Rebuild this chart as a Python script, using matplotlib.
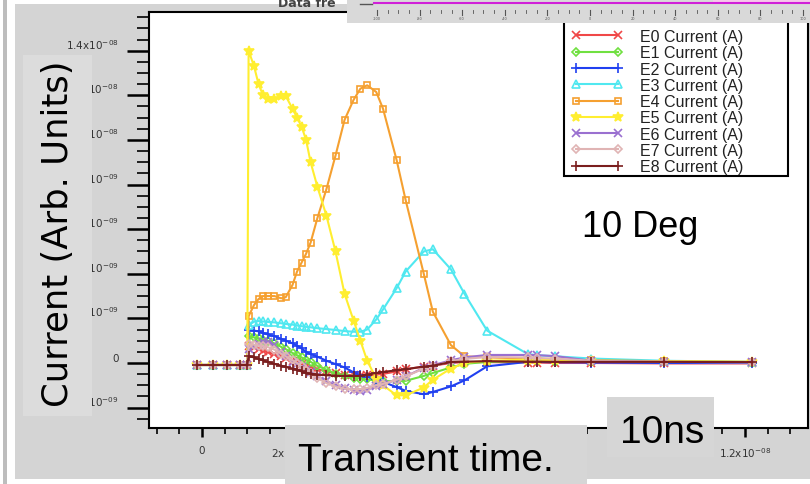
import numpy as np
import matplotlib.pyplot as plt
from matplotlib.patches import Rectangle
from matplotlib.lines import Line2D
from matplotlib.ticker import FixedLocator, FixedFormatter, MultipleLocator

# -------------------------------
# Data (time in ns, current in nA)
# -------------------------------
t_ns = [-0.1, 0.25, 0.55, 0.85, 1.0, 1.03, 1.15, 1.25, 1.35, 1.45, 1.6, 1.75, 1.85,
        2.0, 2.1, 2.2, 2.3, 2.4, 2.55, 2.75, 2.95, 3.15, 3.35, 3.5, 3.65, 3.85, 4.0,
        4.3, 4.5, 4.9, 5.1, 5.5, 5.8, 6.3, 7.2, 7.4, 7.8, 8.6, 10.2, 12.15]

e0 = [-0.09, -0.09, -0.09, -0.09, -0.09, 0.76, 0.7, 0.62, 0.55, 0.48, 0.4, 0.3, 0.22,
      0.1, 0.03, -0.05, -0.13, -0.2, -0.28, -0.38, -0.46, -0.52, -0.56, -0.58, -0.56, -0.52, -0.49,
      -0.38, -0.28, -0.16, -0.12, 0.0, 0.04, 0.04, 0.02, 0.02, 0.0, 0.0, -0.02, -0.02]
e1 = [-0.09, -0.09, -0.09, -0.09, -0.09, 1.21, 1.15, 1.1, 1.05, 1.0, 0.88, 0.72, 0.62,
      0.45, 0.35, 0.25, 0.15, 0.05, -0.13, -0.3, -0.48, -0.58, -0.66, -0.7, -0.74, -0.78, -0.81,
      -0.82, -0.8, -0.58, -0.45, -0.2, -0.04, 0.05, 0.08, 0.08, 0.06, 0.05, 0.03, 0.02]
e2 = [-0.09, -0.09, -0.09, -0.09, -0.09, 1.48, 1.45, 1.42, 1.35, 1.28, 1.2, 1.08, 1.0,
      0.88, 0.78, 0.65, 0.5, 0.4, 0.28, 0.1, -0.05, -0.2, -0.42, -0.55, -0.62, -0.72, -0.85,
      -1.08, -1.25, -1.4, -1.3, -1.05, -0.78, -0.15, 0.05, 0.05, 0.03, 0.02, 0.0, 0.0]
e3 = [-0.09, -0.09, -0.09, -0.09, -0.09, 1.7, 1.85, 1.88, 1.86, 1.84, 1.82, 1.78, 1.75,
      1.72, 1.68, 1.65, 1.62, 1.6, 1.56, 1.52, 1.48, 1.43, 1.4, 1.4, 1.5, 1.95, 2.4,
      3.35, 4.1, 5.0, 5.1, 4.2, 3.1, 1.45, 0.4, 0.35, 0.3, 0.2, 0.1, 0.05]
e4 = [-0.09, -0.09, -0.09, -0.09, -0.09, 2.1, 2.6, 2.87, 3.0, 3.0, 3.0, 2.9, 2.95,
      3.5, 4.1, 4.5, 4.9, 5.4, 6.5, 7.8, 9.3, 10.9, 11.8, 12.3, 12.45, 12.15, 11.4,
      9.1, 7.3, 4.0, 2.3, 0.8, 0.3, 0.25, 0.2, 0.2, 0.15, 0.12, 0.08, 0.05]
e5 = [-0.09, -0.09, -0.09, -0.09, -0.09, 14.0, 13.3, 12.5, 12.0, 11.85, 11.85, 11.97, 11.97,
      11.4, 11.0, 10.6, 10.0, 9.0, 7.9, 6.6, 5.0, 3.1, 1.9, 1.0, 0.1, -0.7, -1.0,
      -1.45, -1.45, -1.1, -0.75, -0.25, 0.0, 0.1, 0.15, 0.15, 0.12, 0.1, 0.08, 0.05]
e6 = [-0.09, -0.09, -0.09, -0.09, -0.09, 0.63, 0.75, 0.85, 0.92, 0.94, 0.8, 0.5, 0.3,
      0.05, -0.05, -0.2, -0.3, -0.42, -0.58, -0.8, -1.0, -1.12, -1.22, -1.26, -1.2, -1.05, -0.95,
      -0.75, -0.6, -0.22, -0.1, 0.12, 0.25, 0.36, 0.36, 0.35, 0.31, 0.1, 0.05, 0.03]
e7 = [-0.09, -0.09, -0.09, -0.09, -0.09, 0.85, 0.82, 0.78, 0.75, 0.72, 0.6, 0.42, 0.3,
      0.12, 0.0, -0.15, -0.3, -0.45, -0.68, -0.9, -1.05, -1.15, -1.18, -1.17, -1.12, -1.0, -0.94,
      -0.75, -0.6, -0.25, -0.15, 0.08, 0.18, 0.27, 0.25, 0.22, 0.2, 0.1, 0.05, 0.03]
e8 = [-0.09, -0.09, -0.09, -0.09, -0.09, 0.31, 0.25, 0.18, 0.12, 0.05, -0.04, -0.12, -0.18,
      -0.25, -0.3, -0.38, -0.45, -0.48, -0.52, -0.55, -0.57, -0.58, -0.58, -0.58, -0.52, -0.45, -0.4,
      -0.33, -0.28, -0.16, -0.12, 0.04, 0.06, 0.08, 0.06, 0.06, 0.05, 0.05, 0.05, 0.04]

series = [e0, e1, e2, e3, e4, e5, e6, e7, e8]
names = ["E0 Current (A)", "E1 Current (A)", "E2 Current (A)", "E3 Current (A)",
         "E4 Current (A)", "E5 Current (A)", "E6 Current (A)", "E7 Current (A)",
         "E8 Current (A)"]
colors = ["#f04848", "#70e040", "#2040f0", "#50e8f0", "#f5a030", "#ffee30",
          "#9a70d0", "#e0b4b4", "#7a1e1e"]
markers = ["x", "D", "+", "^", "s", "*", "x", "D", "+"]
marker_sizes = [5.5, 4, 6.5, 5.5, 5, 7.5, 5.5, 4, 6.5]
open_markers = ["D", "^", "s"]

ytick_vals = [-2e-9, 0, 2e-9, 4e-9, 6e-9, 8e-9, 1e-8, 1.2e-8, 1.4e-8]
ytick_labels = [r"-2x10$^{-09}$", "0", r"2x10$^{-09}$", r"4x10$^{-09}$", r"6x10$^{-09}$",
                r"8x10$^{-09}$", r"1x10$^{-08}$", r"1.2x10$^{-08}$", r"1.4x10$^{-08}$"]
# labels at 4..10 ns sit fully under the slide's text boxes
xtick_vals = [0, 2e-9, 4e-9, 6e-9, 8e-9, 1e-8, 1.2e-8]
xtick_labels = ["0", r"2x10$^{-09}$", "", "", "", "", r"1.2x10$^{-08}$"]
ruler_vals = [-100, -80, -60, -40, -20, 0, 20, 40, 60, 80, 100]

# -------------------------------
# Helpers (pixel -> figure fraction)
# -------------------------------
W, H = 810, 485


def fx(px):
    return px / W


def fy(py):
    return 1 - py / H


def box(x0, y0, x1, y1, color, z):
    fig.add_artist(Rectangle((fx(x0), fy(y1)), (x1 - x0) / W, (y1 - y0) / H,
                             facecolor=color, edgecolor="none", zorder=z,
                             transform=fig.transFigure))


fig = plt.figure(figsize=(8.1, 4.85), dpi=100)
fig.patch.set_facecolor("white")

# slide background
box(15, 5, 810, 480, "#d4d4d4", -2)
box(3, 0, 7, 485, "#bdbdbd", -2)

# -------------------------------
# Plot
# -------------------------------
ax = fig.add_axes([fx(149), fy(429), (808 - 149) / W, (429 - 12.7) / H])
ax.set_facecolor("white")

t = np.array(t_ns) * 1e-9
for vals, name, c, m, ms in zip(series, names, colors, markers, marker_sizes):
    face = "none" if m in open_markers else c
    ax.plot(t, np.array(vals) * 1e-9, color=c, marker=m, markersize=ms,
            markerfacecolor=face, markeredgecolor=c, markeredgewidth=1.2,
            linewidth=1.5, label=name)

ax.set_xlim(-1.171e-9, 13.39e-9)
ax.set_ylim(-2.915e-9, 15.75e-9)

ax.yaxis.set_major_locator(FixedLocator(ytick_vals))
ax.yaxis.set_major_formatter(FixedFormatter(ytick_labels))
ax.yaxis.set_minor_locator(MultipleLocator(0.5e-9))
ax.xaxis.set_major_locator(FixedLocator(xtick_vals))
ax.xaxis.set_major_formatter(FixedFormatter(xtick_labels))
ax.xaxis.set_minor_locator(MultipleLocator(0.5e-9))

ax.tick_params(axis="y", which="major", direction="out", length=16, width=1.8,
               pad=6, labelsize=7.5, labelcolor="#333333")
ax.tick_params(axis="y", which="minor", direction="out", length=8.5, width=1.2)
ax.tick_params(axis="x", which="major", direction="out", length=6.5, width=1.8,
               pad=6, labelsize=7.5, labelcolor="#333333")
ax.tick_params(axis="x", which="minor", direction="out", length=4.5, width=1.2)
for lab in ax.get_yticklabels():
    lab.set_verticalalignment("bottom")
for s in ax.spines.values():
    s.set_linewidth(1.5)

# legend frame + legend
ax.add_patch(Rectangle((fx(564), fy(177)), (788 - 564) / W, (177 - 20) / H,
                       facecolor="white", edgecolor="black", linewidth=1.5,
                       transform=fig.transFigure, zorder=4))
leg = ax.legend(loc="upper left", bbox_to_anchor=(fx(571), fy(30)),
                bbox_transform=fig.transFigure, frameon=False, numpoints=2,
                prop={"family": "Liberation Sans", "size": 11.5},
                handlelength=3.25, handletextpad=1.05, labelspacing=0.08,
                borderpad=0, borderaxespad=0)
leg.set_zorder(5)
for txt in leg.get_texts():
    txt.set_color("#222222")

# -------------------------------
# Slide overlays
# -------------------------------
# y label box
box(23, 56, 92, 417, "#dcdcdc", 1)
fig.text(fx(58), fy(234), "Current (Arb. Units)", rotation=90, fontsize=25.5,
         ha="center", va="center", color="black", zorder=2)

# x label boxes
box(285, 426, 587, 485, "#d6d6d6", 1)
fig.text(fx(426), fy(461), "Transient time.", fontsize=28, ha="center", va="center",
         family=["Liberation Sans", "DejaVu Sans"], zorder=2)
box(607, 398, 714, 458, "#d6d6d6", 1)
fig.text(fx(662), fy(433), "10ns", fontsize=28, ha="center", va="center",
         family=["Liberation Sans", "DejaVu Sans"], zorder=2)

fig.text(fx(640), fy(228), "10 Deg", fontsize=26, ha="center", va="center",
         family=["Liberation Sans", "DejaVu Sans"], zorder=6)

# ruler strip at top
box(347, 0, 810, 24, "#d9d9d9", 3)
box(713, 0, 810, 4, "#f6c8ea", 3)
fig.add_artist(Line2D([fx(374), fx(810)], [fy(4), fy(4)], color="#d020d8",
                      linewidth=1.5, zorder=4))
fig.add_artist(Line2D([fx(360), fx(372)], [fy(5), fy(5)], color="#555555",
                      linewidth=1, zorder=4))
fig.text(fx(336), fy(7), "Data fre", fontsize=9, ha="right", va="baseline",
         color="#444444", fontweight="bold", zorder=4)
step = (803 - 377) / (len(ruler_vals) - 1)
for i, v in enumerate(ruler_vals):
    px = 377 + i * step
    fig.add_artist(Line2D([fx(px), fx(px)], [fy(11), fy(16)], color="#555555",
                          linewidth=0.8, zorder=4))
    fig.text(fx(px), fy(19), str(v), fontsize=2.5, ha="center", va="center",
             color="#555555", zorder=4)
    if i < len(ruler_vals) - 1:
        for k in range(1, 4):
            pk = px + k * step / 4
            fig.add_artist(Line2D([fx(pk), fx(pk)], [fy(11), fy(14)],
                                  color="#555555", linewidth=0.6, zorder=4))

fig.savefig("out.png", dpi=100)
